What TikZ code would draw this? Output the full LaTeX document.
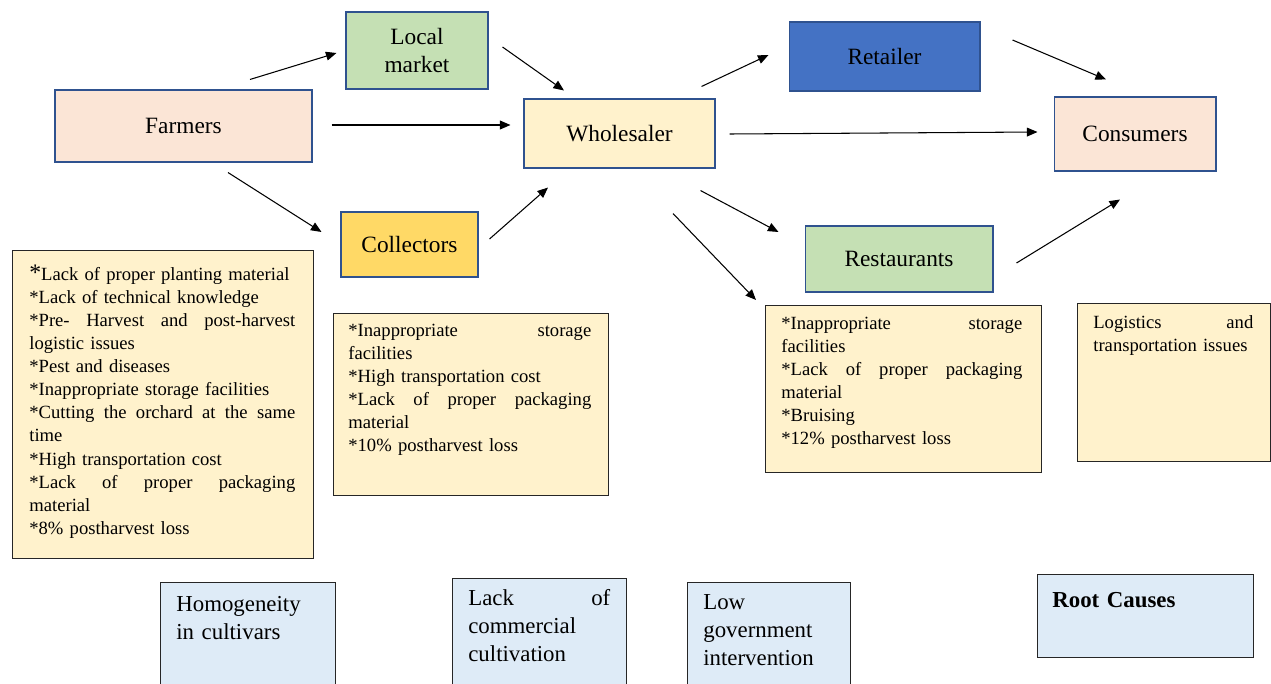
\documentclass[tikz,border=0pt]{standalone}
\usepackage{fontspec}
\setmainfont{Liberation Serif}
\usetikzlibrary{arrows.meta,positioning}

\definecolor{peach}{HTML}{FBE5D6}
\definecolor{leaf}{HTML}{C5E0B4}
\definecolor{gold}{HTML}{FFD966}
\definecolor{cream}{HTML}{FFF2CC}
\definecolor{royal}{HTML}{4472C4}
\definecolor{sky}{HTML}{DEEBF7}
\definecolor{edge}{HTML}{2F528F}

% stretch one line to the full text width
\newcommand{\jl}[1]{\leavevmode\hbox to \hsize{\spaceskip=0.25em plus 1fil\relax #1}}

\begin{document}
\begin{tikzpicture}[
  x=0.02cm, y=-0.02cm,
  actor/.style={rectangle, draw=edge, line width=0.6pt, inner sep=0pt,
                align=center, font=\fontsize{13.3}{16.5}\selectfont},
  peachbox/.style={actor, fill=peach},
  greenbox/.style={actor, fill=leaf},
  goldbox/.style={actor, fill=gold},
  creambox/.style={actor, fill=cream},
  bluebox/.style={actor, fill=royal},
  issue/.style={rectangle, draw=black!85, line width=0.8pt, fill=cream,
                inner sep=0pt, anchor=north west},
  issuetxt/.style={anchor=north west, inner sep=0pt, align=left,
                   font=\fontsize{10.6}{13.1}\selectfont},
  cause/.style={rectangle, draw=black!85, line width=0.8pt, fill=sky,
                inner sep=0pt, anchor=north west},
  causetxt/.style={anchor=north west, inner sep=0pt, align=left,
                   font=\fontsize{13}{15.9}\selectfont},
  arrow/.style={-{Triangle[length=6pt,width=5pt]}, line width=0.6pt}
]
\useasboundingbox (0,0) rectangle (1271,683);
\clip (0,0) rectangle (1271,683);
\fill[white] (0,0) rectangle (1271,683);

%% Supply chain actors
\node[peachbox, minimum width=5.14cm, minimum height=1.44cm] (farm) at (183.5,126) {Farmers};
\node[greenbox, minimum width=2.84cm, minimum height=1.54cm] (local) at (417,50.5) {Local\\market};
\node[goldbox, minimum width=2.74cm, minimum height=1.30cm] (coll) at (409.5,244.5) {Collectors};
\node[creambox, minimum width=3.82cm, minimum height=1.38cm] (whole) at (619.5,133.5) {Wholesaler};
\node[bluebox, minimum width=3.82cm, minimum height=1.38cm] (ret) at (884.5,56.5) {Retailer};
\node[peachbox, minimum width=3.24cm, minimum height=1.48cm] (cons) at (1135,134) {Consumers};
\node[greenbox, minimum width=3.76cm, minimum height=1.32cm] (rest) at (899,259) {Restaurants};

%% Problems along the chain
\node[issue, minimum width=6.02cm, minimum height=6.16cm] (iss1) at (12,250) {};
\node[issuetxt, text width=5.32cm] (iss1-txt) at ([shift={(17,15)}]iss1.north west)
  {{\fontsize{13.5}{13.1}\selectfont*}Lack of proper planting material\\
   {*}Lack of technical knowledge\\
   \jl{*Pre- Harvest and post-harvest}\\
   logistic issues\\
   {*}Pest and diseases\\
   {*}Inappropriate storage facilities\\
   \jl{*Cutting the orchard at the same}\\
   time\\
   {*}High transportation cost\\
   \jl{*Lack of proper packaging}\\
   material\\
   {*}8\% postharvest loss};

\node[issue, minimum width=5.50cm, minimum height=3.64cm] (iss2) at (333,313) {};
\node[issuetxt, text width=4.86cm] (iss2-txt) at ([shift={(15,11)}]iss2.north west)
  {\jl{*Inappropriate storage}\\
   facilities\\
   {*}High transportation cost\\
   \jl{*Lack of proper packaging}\\
   material\\
   {*}10\% postharvest loss};

\node[issue, minimum width=5.52cm, minimum height=3.34cm] (iss3) at (765,305) {};
\node[issuetxt, text width=4.82cm] (iss3-txt) at ([shift={(16,12)}]iss3.north west)
  {\jl{*Inappropriate storage}\\
   facilities\\
   \jl{*Lack of proper packaging}\\
   material\\
   {*}Bruising\\
   {*}12\% postharvest loss};

\node[issue, minimum width=3.86cm, minimum height=3.16cm] (iss4) at (1077,303) {};
\node[issuetxt, text width=3.2cm] (iss4-txt) at ([shift={(16,12)}]iss4.north west)
  {\jl{Logistics and}\\
   transportation issues};

%% Root causes
\node[cause, minimum width=3.50cm, minimum height=2.4cm] (homog) at (160,582) {};
\node[causetxt, text width=2.86cm] (homog-txt) at ([shift={(16,14)}]homog.north west)
  {Homogeneity\\ in cultivars};

\node[cause, minimum width=3.48cm, minimum height=2.4cm] (comm) at (452,578) {};
\node[causetxt, text width=2.84cm] (comm-txt) at ([shift={(16,11)}]comm.north west)
  {\jl{Lack of}\\ commercial\\ cultivation};

\node[cause, minimum width=3.26cm, minimum height=2.4cm] (gov) at (687,582) {};
\node[causetxt, text width=2.6cm] (gov-txt) at ([shift={(16,12)}]gov.north west)
  {Low\\ government\\ intervention};

\node[cause, minimum width=4.32cm, minimum height=1.66cm] (root) at (1037,574) {};
\node[causetxt, text width=3.6cm] (root-txt) at ([shift={(15,18)}]root.north west)
  {\textbf{Root Causes}};

%% Flows
\draw[arrow] ([shift={(66.5,-10)}]farm.north) -- ([shift={(-9,2.5)}]local.west);
\draw[arrow] ([shift={(19,-1)}]farm.east) -- ([shift={(-13,-8.5)}]whole.west);
\draw[arrow] ([shift={(44.5,10)}]farm.south) -- ([shift={(-19,-12.5)}]coll.west);
\draw[arrow] ([shift={(14,-3.5)}]local.east) -- ([shift={(-55.5,-8)}]whole.north);
\draw[arrow] ([shift={(11,-5.5)}]coll.east) -- ([shift={(-71.5,19)}]whole.south);
\draw[arrow] ([shift={(-14,-12)}]whole.north east) -- ([shift={(-20,-1.5)}]ret.west);
\draw[arrow] ([shift={(14,0.5)}]whole.east) -- ([shift={(-16,-2)}]cons.west);
\draw[arrow] ([shift={(-15,22)}]whole.south east) -- ([shift={(-26,-27)}]rest.west);
\draw[arrow] ([shift={(53.5,45)}]whole.south) -- ([shift={(-9,-5)}]iss3.north west);
\draw[arrow] ([shift={(32,-16.5)}]ret.east) -- ([shift={(-29,-17)}]cons.north);
\draw[arrow] ([shift={(23,4)}]rest.east) -- ([shift={(-15,28)}]cons.south);

\end{tikzpicture}
\end{document}
